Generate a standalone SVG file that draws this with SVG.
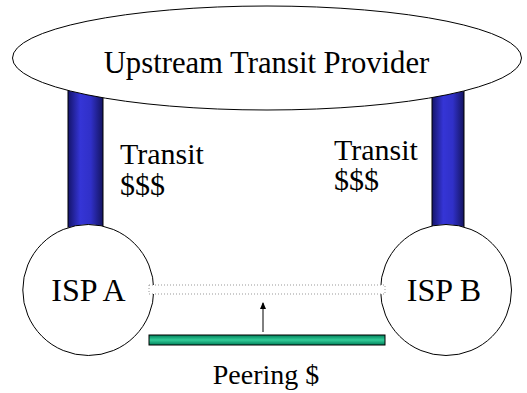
<svg xmlns="http://www.w3.org/2000/svg" width="527" height="393" viewBox="0 0 527 393">
<style>
  text { font-family: "Liberation Serif", "Times New Roman", serif; fill: #000; }
  .node { fill: #fff; stroke: #000; stroke-width: 1; }
  .pipe { fill: url(#blue); stroke: #000; stroke-width: 1; }
</style>
<defs>
  <linearGradient id="blue" x1="0" y1="0" x2="1" y2="0">
    <stop offset="0" stop-color="#14146a"/>
    <stop offset="0.35" stop-color="#3535d6"/>
    <stop offset="0.65" stop-color="#3030c8"/>
    <stop offset="1" stop-color="#141460"/>
  </linearGradient>
  <linearGradient id="green" x1="0" y1="0" x2="0" y2="1">
    <stop offset="0" stop-color="#00805a"/>
    <stop offset="0.5" stop-color="#33cc99"/>
    <stop offset="1" stop-color="#00805a"/>
  </linearGradient>
  <marker id="arr" markerWidth="8" markerHeight="8" refX="6" refY="4" orient="auto" markerUnits="userSpaceOnUse">
    <path d="M0,1 L7,4 L0,7 Z" fill="#000"/>
  </marker>
</defs>
<g id="connectors">
  <rect id="transit-a" class="pipe" x="68" y="90" width="35" height="160"/>
  <rect id="transit-b" class="pipe" x="432" y="90" width="32" height="160"/>
</g>
<g id="upstream">
  <ellipse class="node" cx="267" cy="58" rx="254.5" ry="52"/>
  <text x="266.5" y="73" font-size="30.7" text-anchor="middle">Upstream Transit Provider</text>
</g>
<g id="isp-a">
  <circle class="node" cx="88.3" cy="290" r="65.5"/>
  <text x="88.5" y="301" font-size="32" text-anchor="middle">ISP A</text>
</g>
<g id="isp-b">
  <circle class="node" cx="446" cy="290" r="65.5"/>
  <text x="444" y="301" font-size="32" text-anchor="middle">ISP B</text>
</g>
<g id="links">
  <rect id="peering-link" x="149" y="285" width="236" height="9" fill="#fff" stroke="#999" stroke-width="1" stroke-dasharray="1,2"/>
  <rect id="peering-bar" x="149" y="335" width="236" height="10" fill="url(#green)" stroke="#000" stroke-width="1"/>
  <line x1="263" y1="332" x2="263" y2="303" stroke="#000" stroke-width="1" marker-end="url(#arr)"/>
</g>
<g id="labels">
  <text x="120" y="164" font-size="30">Transit</text>
  <text x="120" y="195" font-size="30">$$$</text>
  <text x="334" y="160" font-size="30">Transit</text>
  <text x="334" y="190" font-size="30">$$$</text>
  <text x="266" y="384" font-size="28" text-anchor="middle">Peering $</text>
</g>
</svg>
